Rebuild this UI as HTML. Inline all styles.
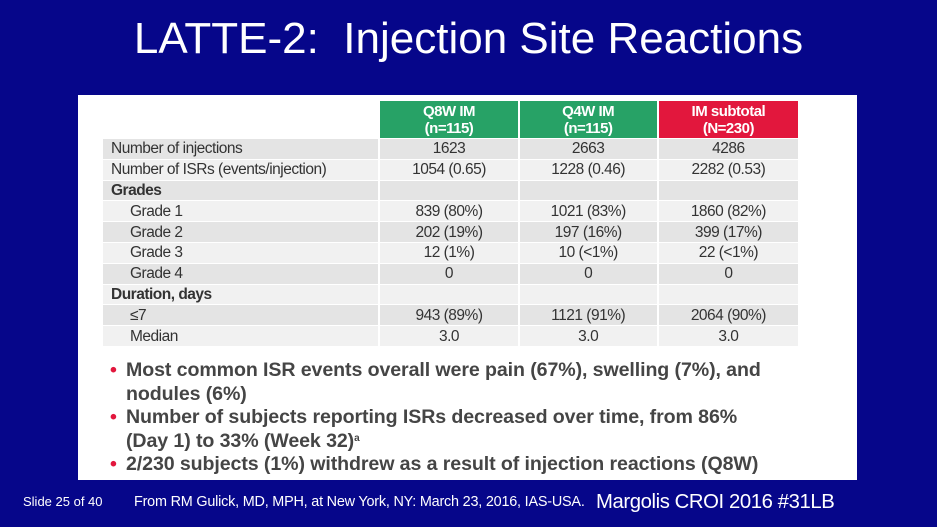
<!DOCTYPE html>
<html><head><meta charset="utf-8"><style>
body{margin:0;width:937px;height:527px;background:#06068a;position:relative;overflow:hidden;font-family:"Liberation Sans",sans-serif}
.abs{position:absolute}
#title{left:0;width:937px;top:14px;text-align:center;color:#fff;font-size:44px;white-space:pre}
#panel{left:78px;top:95px;width:779px;height:385px;background:#fff}
table{position:absolute;left:23px;top:5px;border-collapse:separate;border-spacing:2px 1px;font-size:15.5px;color:#333;letter-spacing:-0.5px;table-layout:fixed;width:699px}
td,th{height:19.8px;padding:0;line-height:19px;overflow:hidden;white-space:nowrap}
th{color:#fff;font-weight:bold;font-size:15px;line-height:17px;height:37px}
td.l{text-align:left;padding-left:8px}
td.v,th{text-align:center}
tr.a td{background:#e4e4e4} tr.b td{background:#f1f1f1}
.ind{padding-left:27px!important}
.g{background:#27a266}.r{background:#e2173d}
ul{position:absolute;left:30px;top:264px;margin:0;padding:0;list-style:none;font-size:19.6px;font-weight:bold;color:#454545;line-height:23.5px;width:668px;letter-spacing:-0.1px}
li{position:relative;padding-left:18px}
li:before{content:"•";color:#e2173d;position:absolute;left:2px}
sup{font-size:10px;line-height:0;vertical-align:6px}
#foot1{left:23px;top:494px;color:#fff;font-size:13px}
#foot2{left:134px;top:494px;color:#fff;font-size:14.4px;letter-spacing:-0.2px}
#foot3{left:596px;top:491px;color:#fff;font-size:20.3px;letter-spacing:-0.4px}
</style></head><body>
<div id="title" class="abs">LATTE-2:  Injection Site Reactions</div>
<div id="panel" class="abs">
<table>
<colgroup><col style="width:273px"><col style="width:136px"><col style="width:136px"><col style="width:138px"></colgroup>
<tr><th style="background:none"></th><th class="g">Q8W IM<br>(n=115)</th><th class="g">Q4W IM<br>(n=115)</th><th class="r">IM subtotal<br>(N=230)</th></tr>
<tr class="a"><td class="l">Number of injections</td><td class="v">1623</td><td class="v">2663</td><td class="v">4286</td></tr>
<tr class="b"><td class="l">Number of ISRs (events/injection)</td><td class="v">1054 (0.65)</td><td class="v">1228 (0.46)</td><td class="v">2282 (0.53)</td></tr>
<tr class="a"><td class="l"><b>Grades</b></td><td class="v"></td><td class="v"></td><td class="v"></td></tr>
<tr class="b"><td class="l ind">Grade 1</td><td class="v">839 (80%)</td><td class="v">1021 (83%)</td><td class="v">1860 (82%)</td></tr>
<tr class="a"><td class="l ind">Grade 2</td><td class="v">202 (19%)</td><td class="v">197 (16%)</td><td class="v">399 (17%)</td></tr>
<tr class="b"><td class="l ind">Grade 3</td><td class="v">12 (1%)</td><td class="v">10 (&lt;1%)</td><td class="v">22 (&lt;1%)</td></tr>
<tr class="a"><td class="l ind">Grade 4</td><td class="v">0</td><td class="v">0</td><td class="v">0</td></tr>
<tr class="b"><td class="l"><b>Duration, days</b></td><td class="v"></td><td class="v"></td><td class="v"></td></tr>
<tr class="a"><td class="l ind">≤7</td><td class="v">943 (89%)</td><td class="v">1121 (91%)</td><td class="v">2064 (90%)</td></tr>
<tr class="b"><td class="l ind">Median</td><td class="v">3.0</td><td class="v">3.0</td><td class="v">3.0</td></tr>
</table>
<ul>
<li>Most common ISR events overall were pain (67%), swelling (7%), and nodules (6%)</li>
<li>Number of subjects reporting ISRs decreased over time, from 86% (Day 1) to 33% (Week 32)<sup>a</sup></li>
<li>2/230 subjects (1%) withdrew as a result of injection reactions (Q8W)</li>
</ul>
</div>
<div id="foot1" class="abs">Slide 25 of 40</div>
<div id="foot2" class="abs">From RM Gulick, MD, MPH, at New York, NY: March 23, 2016, IAS-USA.</div>
<div id="foot3" class="abs">Margolis CROI 2016 #31LB</div>
</body></html>
